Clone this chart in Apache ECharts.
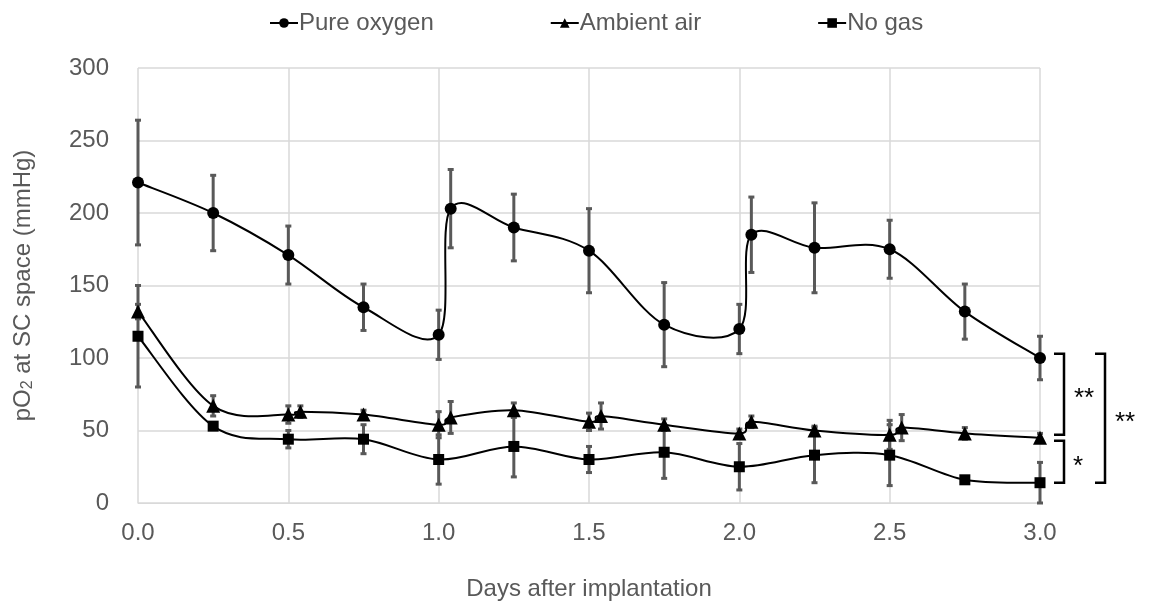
<!DOCTYPE html>
<html>
<head>
<meta charset="utf-8">
<script src="https://cdn.jsdelivr.net/npm/echarts@6/dist/echarts.min.js"></script>
<style>
  html, body { margin: 0; padding: 0; background: #fff; }
  #main { width: 1154px; height: 602px; }
</style>
</head>
<body>
<div id="main"></div>
<script>
// Pure oxygen
var oxyX = [0, 0.25, 0.5, 0.75, 1.0, 1.04, 1.25, 1.5, 1.75, 2.0, 2.04, 2.25, 2.5, 2.75, 3.0];
var oxyY = [221, 200, 171, 135, 116, 203, 190, 174, 123, 120, 185, 176, 175, 132, 100];
var oxyErr = [43, 26, 20, 16, 17, 27, 23, 29, 29, 17, 26, 31, 20, 19, 15];

// Ambient air
var airX = [0, 0.25, 0.5, 0.54, 0.75, 1.0, 1.04, 1.25, 1.5, 1.54, 1.75, 2.0, 2.04, 2.25, 2.5, 2.54, 2.75, 3.0];
var airY = [132, 67, 61, 63, 61, 54, 59, 64, 56, 60, 54, 48, 56, 50, 47, 52, 48, 45];
var airErr = [5, 7, 6, 4, 3, 9, 11, 5, 6, 9, 4, 3, 4, 3, 10, 9, 4, 3];

// No gas
var noX = [0, 0.25, 0.5, 0.75, 1.0, 1.25, 1.5, 1.75, 2.0, 2.25, 2.5, 2.75, 3.0];
var noY = [115, 53, 44, 44, 30, 39, 30, 35, 25, 33, 33, 16, 14];
var noErr = [35, 2, 6, 10, 17, 21, 9, 18, 16, 19, 21, 2, 14];

// significance brackets: [top, bottom, label, level]
var brackets = [[103, 47, '**', 1], [43, 14, '*', 1], [103, 14, '**', 2]];

var GRAY = '#595959';
var FONT = '"Liberation Sans", Arial, sans-serif';

function pairs(xs, ys) {
    var out = [];
    for (var i = 0; i < xs.length; i++) out.push([xs[i], ys[i]]);
    return out;
}

function triples(xs, ys, es) {
    var out = [];
    for (var i = 0; i < xs.length; i++) out.push([xs[i], ys[i], es[i]]);
    return out;
}

function renderErr(params, api) {
    var x = api.value(0), y = api.value(1), e = api.value(2);
    var top = api.coord([x, y + e]);
    var bot = api.coord([x, y - e]);
    var st = { stroke: GRAY, lineWidth: 3 };
    return {
        type: 'group',
        children: [
            { type: 'line', shape: { x1: top[0], y1: top[1], x2: bot[0], y2: bot[1] }, style: st },
            { type: 'line', shape: { x1: top[0] - 3, y1: top[1], x2: top[0] + 3, y2: top[1] }, style: st },
            { type: 'line', shape: { x1: bot[0] - 3, y1: bot[1], x2: bot[0] + 3, y2: bot[1] }, style: st }
        ]
    };
}

// spreadsheet-style spline: one bezier segment per data item (i -> i+1)
function splineRenderer(xs, ys) {
    return function (params, api) {
        var i = params.dataIndex;
        var n = xs.length;
        if (i >= n - 1) return null;
        var p0 = api.coord([xs[Math.max(i - 1, 0)], ys[Math.max(i - 1, 0)]]);
        var p1 = api.coord([xs[i], ys[i]]);
        var p2 = api.coord([xs[i + 1], ys[i + 1]]);
        var p3 = api.coord([xs[Math.min(i + 2, n - 1)], ys[Math.min(i + 2, n - 1)]]);
        return {
            type: 'bezierCurve',
            shape: {
                x1: p1[0], y1: p1[1], x2: p2[0], y2: p2[1],
                cpx1: p1[0] + (p2[0] - p0[0]) / 6, cpy1: p1[1] + (p2[1] - p0[1]) / 6,
                cpx2: p2[0] - (p3[0] - p1[0]) / 6, cpy2: p2[1] - (p3[1] - p1[1]) / 6
            },
            style: { stroke: '#000', lineWidth: 2, fill: null }
        };
    };
}

function renderBracket(params, api) {
    var t = api.coord([3.0, api.value(0)]);
    var b = api.coord([3.0, api.value(1)]);
    var lvl = api.value(3);
    var x0 = t[0] + (lvl == 1 ? 14 : 55);
    var x1 = x0 + 10;
    var st = { stroke: '#000', lineWidth: 2.5, fill: null };
    var label = brackets[params.dataIndex][2];
    return {
        type: 'group',
        children: [
            { type: 'polyline', shape: { points: [[x0, t[1]], [x1, t[1]], [x1, b[1]], [x0, b[1]]] }, style: st },
            {
                type: 'text',
                style: {
                    text: label, x: x1 + (label == '*' ? 14 : 20), y: (t[1] + b[1]) / 2 + 5,
                    fill: '#000', font: '26px ' + FONT,
                    align: 'center', verticalAlign: 'middle'
                }
            }
        ]
    };
}

function markerSeries(name, xs, ys, symbol, size) {
    return {
        type: 'line', name: name, data: pairs(xs, ys),
        symbol: symbol, symbolSize: size, z: 4,
        lineStyle: { color: '#000', width: 2, opacity: 0 },
        itemStyle: { color: '#000' }
    };
}

function curveSeries(xs, ys) {
    return { type: 'custom', renderItem: splineRenderer(xs, ys), data: pairs(xs, ys), z: 2, silent: true };
}

var chart = echarts.init(document.getElementById('main'));
var option = {
    animation: false,
    textStyle: { fontFamily: FONT },
    legend: {
        top: 6,
        left: 264,
        itemGap: 116,
        itemWidth: 28,
        itemHeight: 12,
        lineStyle: { opacity: 1, width: 2, color: '#000' },
        textStyle: { color: GRAY, fontSize: 24, fontFamily: FONT, padding: [0, 0, 0, -4] },
        data: ['Pure oxygen', 'Ambient air', 'No gas']
    },
    grid: { left: 138, right: 114, top: 68, bottom: 99, outerBoundsMode: 'none' },
    xAxis: {
        type: 'value',
        min: 0, max: 3.0, interval: 0.5,
        name: 'Days after implantation',
        nameLocation: 'middle',
        nameGap: 74,
        nameTextStyle: { color: GRAY, fontSize: 24 },
        axisLine: { lineStyle: { color: '#d9d9d9' } },
        axisTick: { show: false },
        axisLabel: { color: GRAY, fontSize: 24, margin: 18, formatter: function (v) { return v.toFixed(1); } },
        splitLine: { lineStyle: { color: '#d9d9d9', width: 1.5 } }
    },
    yAxis: {
        type: 'value',
        min: 0, max: 300, interval: 50,
        name: 'pO{sub|2} at SC space (mmHg)',
        nameLocation: 'middle',
        nameGap: 102,
        nameTextStyle: {
            color: GRAY, fontSize: 24,
            rich: { sub: { fontSize: 16, color: GRAY, fontFamily: FONT, verticalAlign: 'bottom', padding: [10, 0, 0, 0] } }
        },
        axisLine: { show: false },
        axisTick: { show: false },
        axisLabel: { color: GRAY, fontSize: 24, margin: 29 },
        splitLine: { lineStyle: { color: '#d9d9d9', width: 1.5 } }
    },
    series: [
        curveSeries(oxyX, oxyY),
        curveSeries(airX, airY),
        curveSeries(noX, noY),
        { type: 'custom', renderItem: renderErr, data: triples(oxyX, oxyY, oxyErr), z: 3, silent: true },
        { type: 'custom', renderItem: renderErr, data: triples(airX, airY, airErr), z: 3, silent: true },
        { type: 'custom', renderItem: renderErr, data: triples(noX, noY, noErr), z: 3, silent: true },
        markerSeries('Pure oxygen', oxyX, oxyY, 'circle', 12),
        markerSeries('Ambient air', airX, airY, 'triangle', 14),
        markerSeries('No gas', noX, noY, 'rect', 11),
        { type: 'custom', renderItem: renderBracket, data: brackets, clip: false, silent: true, z: 5 }
    ]
};
chart.setOption(option);
</script>
</body>
</html>
